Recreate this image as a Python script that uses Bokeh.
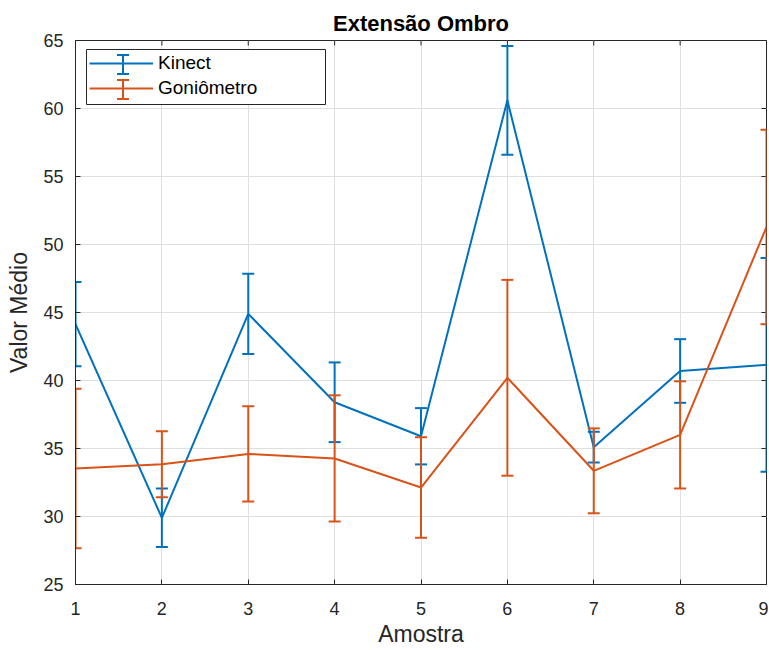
import math
from bokeh.plotting import figure
from bokeh.models import (ColumnDataSource, Whisker, TeeHead, FixedTicker,
                          Range1d, Legend, LegendItem, BoxAnnotation)
from bokeh.embed import file_html
from bokeh.resources import INLINE

# ---- data ----
samples = [1, 2, 3, 4, 5, 6, 7, 8, 9]
kinect_mean = [44.15, 29.9, 44.9, 38.4, 35.9, 60.6, 35.1, 40.7, 41.15]
kinect_err = [3.1, 2.15, 2.95, 2.93, 2.07, 4.0, 1.13, 2.34, 7.86]
gonio_mean = [33.53, 33.84, 34.6, 34.27, 32.13, 40.2, 33.36, 36.0, 51.29]
gonio_err = [5.86, 2.42, 3.5, 4.64, 3.7, 7.2, 3.12, 3.94, 7.15]
x_ticks = [1, 2, 3, 4, 5, 6, 7, 8, 9]
y_ticks = [25, 30, 35, 40, 45, 50, 55, 60, 65]
x_min, x_max = 1, 9
y_min, y_max = 25, 65

BLUE = "#0072BD"
ORANGE = "#D95319"
AX = "#262626"
FONT = "Liberation Sans"

p = figure(width=768, height=649, x_range=Range1d(x_min, x_max), y_range=Range1d(y_min, y_max),
           output_backend="svg", toolbar_location=None,
           min_border_left=75, min_border_right=2, min_border_top=40, min_border_bottom=65,
           title="Extensão Ombro")
p.background_fill_color = "white"
p.border_fill_color = "white"
p.outline_line_color = AX
p.outline_line_width = 1

p.title.align = "center"
p.title.text_font = FONT
p.title.text_font_size = "22px"
p.title.text_font_style = "bold"
p.title.text_color = "#000000"
p.title.standoff = 9

for ax in (p.xaxis[0], p.yaxis[0]):
    ax.axis_line_color = AX
    ax.major_tick_line_color = AX
    ax.major_tick_in = 5
    ax.major_tick_out = 0
    ax.minor_tick_line_color = None
    ax.major_label_text_font = FONT
    ax.major_label_text_font_size = "18px"
    ax.major_label_text_color = AX
    ax.axis_label_text_font = FONT
    ax.axis_label_text_font_size = "23px"
    ax.axis_label_text_font_style = "normal"
    ax.axis_label_text_color = AX

p.xaxis.ticker = FixedTicker(ticks=x_ticks)
p.yaxis.ticker = FixedTicker(ticks=y_ticks)
p.xaxis.axis_label = "Amostra"
p.yaxis.axis_label = "Valor Médio"
p.xaxis.major_label_standoff = 17
p.xaxis.axis_label_standoff = 3
p.yaxis.major_label_standoff = 12
p.yaxis.axis_label_standoff = 8

p.grid.grid_line_color = "#dfdfdf"
p.grid.grid_line_width = 1
p.xgrid.ticker = FixedTicker(ticks=x_ticks)
p.ygrid.ticker = FixedTicker(ticks=y_ticks)

# white legend box (under the data glyphs, above the grid)
legend_box = BoxAnnotation(left=86, right=325, top=49, bottom=104,
                           left_units="canvas", right_units="canvas",
                           top_units="canvas", bottom_units="canvas",
                           fill_color="white", fill_alpha=1,
                           line_color=AX, line_width=1, line_alpha=1, level="underlay")
p.add_layout(legend_box)

# inward tick marks on the top and right edges of the box
p.ray(x=x_ticks, y=[y_max] * len(x_ticks), length=5, length_units="screen",
      angle=-math.pi / 2, line_color=AX, line_width=1)
p.ray(x=[x_max] * len(y_ticks), y=y_ticks, length=5, length_units="screen",
      angle=math.pi, line_color=AX, line_width=1)

renderers = []
for mean, err, color in ((kinect_mean, kinect_err, BLUE), (gonio_mean, gonio_err, ORANGE)):
    src = ColumnDataSource(dict(
        x=samples, y=mean,
        upper=[m + e for m, e in zip(mean, err)],
        lower=[m - e for m, e in zip(mean, err)]))
    r = p.line("x", "y", source=src, line_color=color, line_width=2)
    w = Whisker(source=src, base="x", upper="upper", lower="lower", dimension="height",
                line_color=color, line_width=2, level="glyph",
                upper_head=TeeHead(size=12, line_color=color, line_width=2),
                lower_head=TeeHead(size=12, line_color=color, line_width=2))
    p.add_layout(w)
    renderers.append(r)

legend = Legend(items=[LegendItem(label="Kinect", renderers=[renderers[0]]),
                       LegendItem(label="Goniômetro", renderers=[renderers[1]])],
                location=(14, 485), margin=0, padding=4, spacing=3,
                glyph_width=64, glyph_height=22, label_height=22, label_width=150,
                label_standoff=5, border_line_color=None,
                background_fill_alpha=0,
                label_text_font=FONT, label_text_font_size="19px", label_text_color="#000000")
p.add_layout(legend)

# error-bar symbols inside the legend (canvas pixel units)
for up, lo, color in ((54.5, 73.5, BLUE), (79.5, 98.5, ORANGE)):
    lsrc = ColumnDataSource(dict(b=[122.5], u=[up], l=[lo]))
    lw = Whisker(source=lsrc, base="b", upper="u", lower="l", dimension="height",
                 base_units="canvas", upper_units="canvas", lower_units="canvas",
                 line_color=color, line_width=2, level="glyph",
                 upper_head=TeeHead(size=12, line_color=color, line_width=2),
                 lower_head=TeeHead(size=12, line_color=color, line_width=2))
    p.add_layout(lw)

open("out.html", "w").write(file_html(p, INLINE))
